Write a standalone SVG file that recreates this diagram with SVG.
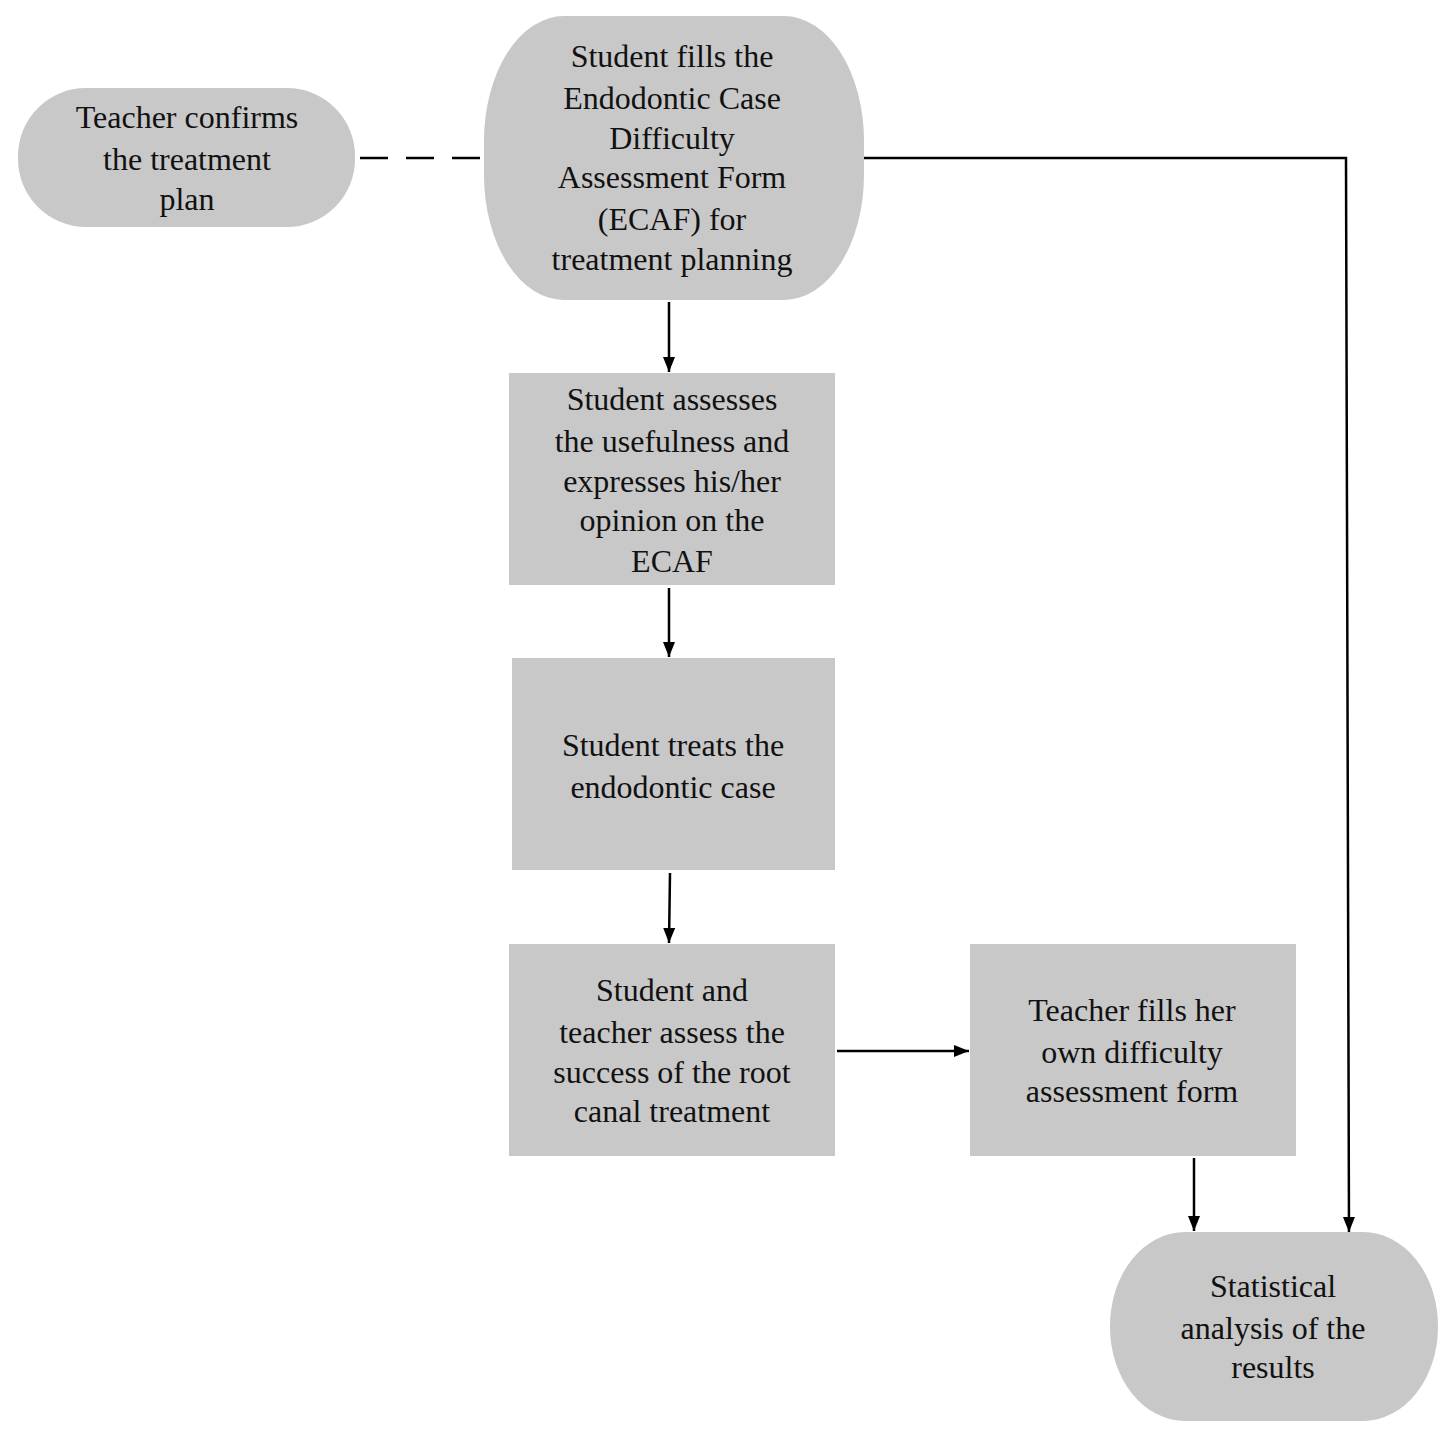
<svg xmlns="http://www.w3.org/2000/svg" width="1454" height="1437" viewBox="0 0 1454 1437">
<style>
.n{fill:#c8c8c8;stroke:none}
text{font-family:"Liberation Serif","DejaVu Serif",serif;font-size:32px;fill:#111;text-anchor:middle}
.c{stroke:#000;stroke-width:2.5;fill:none}
</style>
<defs><marker id="a" markerWidth="10" markerHeight="10" refX="9" refY="5" orient="auto" markerUnits="userSpaceOnUse" viewBox="0 0 10 10"><path d="M0,0 L10,5 L0,10 z" fill="#000" transform="scale(1)"/></marker>
<marker id="b" markerWidth="16" markerHeight="16" refX="15" refY="6" orient="auto" markerUnits="userSpaceOnUse"><path d="M0,0 L15,6 L0,12 z" fill="#000"/></marker></defs>
<rect width="1454" height="1437" fill="#fff"/>
<g id="n1"><rect class="n" x="18" y="88" width="337" height="139" rx="68" ry="68"/>
<text x="187" y="128">Teacher confirms</text><text x="187" y="170">the treatment</text><text x="187" y="210">plan</text></g>
<g id="n2"><rect class="n" x="484" y="16" width="380" height="284" rx="80" ry="125"/>
<text x="672" y="67">Student fills  the</text><text x="672" y="109">Endodontic Case</text><text x="672" y="149">Difficulty</text><text x="672" y="188">Assessment Form</text><text x="672" y="230">(ECAF) for</text><text x="672" y="270">treatment planning</text></g>
<g id="n3"><rect class="n" x="509" y="373" width="326" height="212"/>
<text x="672" y="410">Student assesses</text><text x="672" y="452">the usefulness and</text><text x="672" y="492">expresses his/her</text><text x="672" y="531">opinion on the</text><text x="672" y="572">ECAF</text></g>
<g id="n4"><rect class="n" x="512" y="658" width="323" height="212"/>
<text x="673" y="756">Student treats the</text><text x="673" y="798">endodontic case</text></g>
<g id="n5"><rect class="n" x="509" y="944" width="326" height="212"/>
<text x="672" y="1001">Student and</text><text x="672" y="1043">teacher assess the</text><text x="672" y="1083">success of the root</text><text x="672" y="1122">canal treatment</text></g>
<g id="n6"><rect class="n" x="970" y="944" width="326" height="212"/>
<text x="1132" y="1021">Teacher fills  her</text><text x="1132" y="1063">own difficulty</text><text x="1132" y="1102">assessment form</text></g>
<g id="n7"><rect class="n" x="1110" y="1232" width="328" height="189" rx="75" ry="94"/>
<text x="1273" y="1297">Statistical</text><text x="1273" y="1339">analysis of the</text><text x="1273" y="1378">results</text></g>
<g id="connectors">
<path class="c" d="M360,158 H484" stroke-dasharray="28,18"/>
<path class="c" d="M864,158 H1346 L1349,1232" marker-end="url(#b)"/>
<path class="c" d="M669,302 V372" marker-end="url(#b)"/>
<path class="c" d="M669,588 V657" marker-end="url(#b)"/>
<path class="c" d="M670,873 L669,943" marker-end="url(#b)"/>
<path class="c" d="M837,1051 H969" marker-end="url(#b)"/>
<path class="c" d="M1194,1158 V1231" marker-end="url(#b)"/>
</g>
</svg>
